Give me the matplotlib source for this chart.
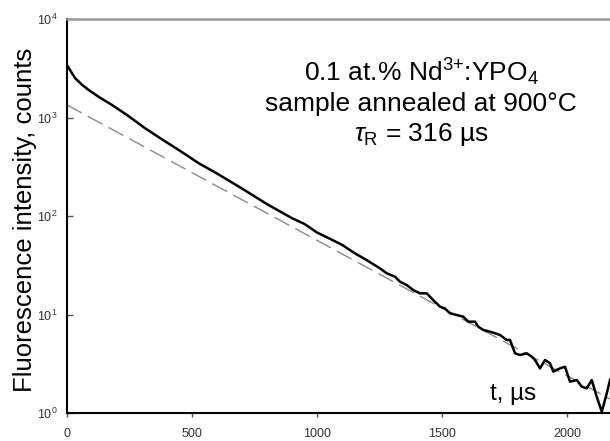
import matplotlib
matplotlib.use("Agg")
import matplotlib.pyplot as plt
from matplotlib.ticker import FixedLocator, NullLocator, FixedFormatter

plt.rcParams['font.family'] = ['Liberation Sans', 'DejaVu Sans']
plt.rcParams['mathtext.fontset'] = 'custom'
plt.rcParams['mathtext.rm'] = 'Liberation Sans'
plt.rcParams['mathtext.it'] = 'Liberation Sans:italic'
plt.rcParams['mathtext.bf'] = 'Liberation Sans:bold'

# Measured decay (time in microseconds, counts)
t_us = [0, 15, 33, 60, 87, 130, 180, 240, 313, 380, 447, 527, 600, 700, 800,
        900, 950, 1000, 1050, 1100, 1150, 1200, 1252, 1279, 1312, 1332, 1359,
        1385, 1412, 1439, 1465, 1492, 1512, 1532, 1559, 1585, 1605, 1632, 1645,
        1665, 1692, 1712, 1732, 1759, 1772, 1792, 1812, 1839, 1859, 1872, 1892,
        1912, 1932, 1945, 1972, 1992, 2012, 2039, 2059, 2079, 2099, 2119, 2139,
        2159, 2172, 2185]
counts = [3410, 2950, 2500, 2150, 1900, 1600, 1340, 1060, 776, 600, 468, 343,
          270, 190, 132, 95, 83, 68, 59, 51, 42, 35.5, 29.4, 26.2, 24.2, 21.5,
          19.9, 17.7, 16.4, 16.4, 14.0, 12.0, 11.5, 10.3, 9.88, 9.51, 8.46,
          8.46, 7.52, 6.97, 6.69, 6.44, 6.2, 5.51, 5.51, 4.04, 3.88, 4.04, 3.73,
          3.45, 2.84, 3.45, 3.2, 2.63, 2.84, 2.95, 2.08, 2.16, 1.85, 1.78, 2.16,
          1.46, 1.03, 1.58, 2.16, 2.6]

# Single-exponential fit (tau_R = 316 us), end points
fit_t = [0, 2200]
fit_counts = [1340, 1.27]

x_ticks = [0, 500, 1000, 1500, 2000]
x_ticklabels = ['0', '500', '1000', '1500', '2000']
y_ticks = [1, 10, 100, 1000, 10000]
y_ticklabels = [r'$10^{0}$', r'$10^{1}$', r'$10^{2}$', r'$10^{3}$', r'$10^{4}$']

W, H = 610, 441
fig = plt.figure(figsize=(W / 100, H / 100), dpi=100)
ax_left, ax_bottom, ax_top = 67, 413, 19
ax_w = 550
ax = fig.add_axes([ax_left / W, (H - ax_bottom) / H, ax_w / W, (ax_bottom - ax_top) / H])

fl, = ax.plot(fit_t, fit_counts, color='#8a8a8a', lw=1.0)
fl.set_dashes((12, 5))
ax.plot(t_us, counts, color='black', lw=1.8, solid_joinstyle='round')

ax.set_yscale('log')
ax.set_xlim(0, 2200)
ax.set_ylim(1, 10000)

ax.xaxis.set_major_locator(FixedLocator(x_ticks))
ax.xaxis.set_major_formatter(FixedFormatter(x_ticklabels))
ax.yaxis.set_major_locator(FixedLocator(y_ticks))
ax.yaxis.set_major_formatter(FixedFormatter(y_ticklabels))
ax.xaxis.set_minor_locator(NullLocator())
ax.yaxis.set_minor_locator(NullLocator())

ax.tick_params(axis='x', direction='out', length=3, width=1, pad=8,
               labelsize=9, labelcolor='#333333', color='#555555')
ax.tick_params(axis='y', direction='in', length=4, width=1, pad=7,
               labelsize=9, labelcolor='#333333', color='#555555')

for s in ['left', 'bottom']:
    ax.spines[s].set_linewidth(1.5)
    ax.spines[s].set_color('black')
ax.spines['top'].set_color('#999999')
ax.spines['top'].set_linewidth(1.8)
ax.spines['right'].set_visible(False)

ax.set_ylabel('Fluorescence intensity, counts', fontsize=18.5)
ax.yaxis.set_label_coords(-0.055, 0.49)

def axfrac(px, py):
    return (px - ax_left) / ax_w, (ax_bottom - py) / (ax_bottom - ax_top)

fs = 19
x0, y0 = axfrac(421, 81)
ax.text(x0, y0, r'0.1 at.% Nd$^{3{+}}$:YPO$_4$', transform=ax.transAxes,
        ha='center', va='baseline', fontsize=fs)
x0, y0 = axfrac(421, 111)
ax.text(x0, y0, 'sample annealed at 900°C', transform=ax.transAxes,
        ha='center', va='baseline', fontsize=fs)
x0, y0 = axfrac(421, 141)
ax.text(x0, y0, r'$\tau_{\mathrm{R}}$ = 316 µs', transform=ax.transAxes,
        ha='center', va='baseline', fontsize=fs)
x0, y0 = axfrac(513, 400)
ax.text(x0, y0, 't, µs', transform=ax.transAxes,
        ha='center', va='baseline', fontsize=17.5)

fig.savefig('out.png', dpi=100)
